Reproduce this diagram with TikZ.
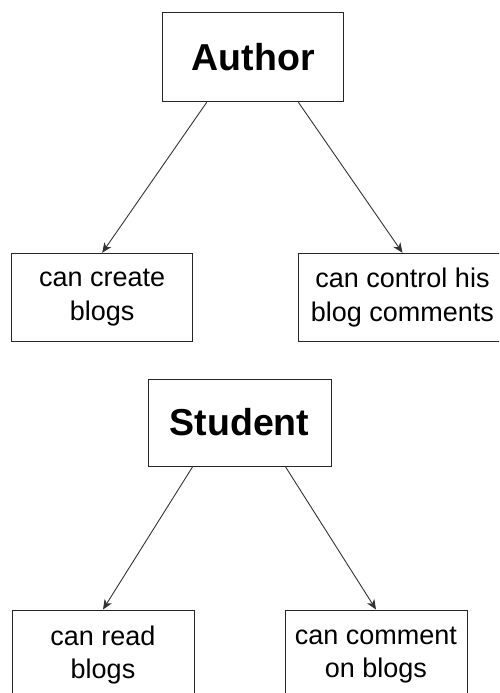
\documentclass[tikz,border=0pt]{standalone}
\usepackage{fontspec}
\setmainfont{Liberation Sans}
\usetikzlibrary{arrows.meta,calc}
\begin{document}
\begin{tikzpicture}[x=1pt,y=-1pt,
  box/.style={draw=black!85, line width=1pt, rectangle, inner sep=0pt, align=center},
  rolebox/.style={box, font=\fontsize{37.5}{40}\selectfont\bfseries},
  capbox/.style={box, font=\fontsize{27}{33.3}\selectfont},
  conn/.style={draw=black!80, line width=0.9pt, -{Stealth[length=10pt,width=8.5pt,inset=3pt]}}]
\useasboundingbox (0,0) rectangle (499,693);
\clip (0,0) rectangle (499,693);
\node[rolebox, minimum width=181pt, minimum height=89pt] (author) at (253.2,57.2) {Author};
\node[capbox, minimum width=181pt, minimum height=88.4pt] (create) at (102.2,297.5) {can create\\blogs};
\node[capbox, minimum width=209pt, minimum height=88.4pt] (control) at (402.5,297.5) {can control his\\blog comments};
\node[rolebox, minimum width=183pt, minimum height=87pt] (student) at (239.5,422.5) {Student};
\node[capbox, minimum width=182pt, minimum height=90pt] (read) at (103,655) {can read\\blogs};
\node[capbox, minimum width=182pt, minimum height=90pt] (comment) at (376,655) {can comment\\on blogs};
\draw[conn] ($(author.south west)!0.245!(author.south east)$) -- (create.north);
\draw[conn] ($(author.south west)!0.748!(author.south east)$) -- (control.north);
\draw[conn] ($(student.south west)!0.246!(student.south east)$) -- (read.north);
\draw[conn] ($(student.south west)!0.749!(student.south east)$) -- (comment.north);
\end{tikzpicture}
\end{document}
